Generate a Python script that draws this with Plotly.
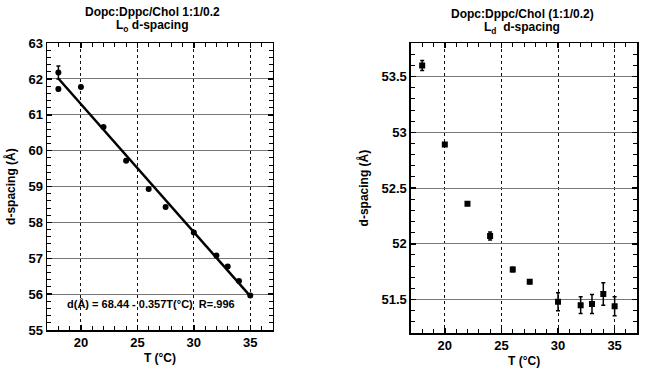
import plotly.graph_objects as go

# Left panel: Lo d-spacing
lo_T = [18, 18, 20, 22, 24, 26, 27.5, 30, 32, 33, 34, 35]
lo_d = [62.18, 61.72, 61.78, 60.66, 59.72, 58.93, 58.43, 57.72, 57.08, 56.77, 56.37, 55.96]
lo_err = [0.18, 0.04, 0.04, 0.03, 0.04, 0.03, 0.03, 0.03, 0.03, 0.03, 0.03, 0.03]
fit_T = [18, 35]
fit_a, fit_b = 68.44, -0.357

# Right panel: Ld d-spacing
ld_T = [18, 20, 22, 24, 26, 27.5, 30, 32, 33, 34, 35]
ld_d = [53.6, 52.89, 52.36, 52.07, 51.77, 51.66, 51.48, 51.45, 51.46, 51.55, 51.44]
ld_err = [0.045, 0.015, 0.015, 0.035, 0.02, 0.015, 0.08, 0.075, 0.085, 0.1, 0.085]

# Tick labels
x_ticks = [20, 25, 30, 35]
x_minor = [18, 19, 21, 22, 23, 24, 26, 27, 28, 29, 31, 32, 33, 34, 36]
lo_yticks = [55, 56, 57, 58, 59, 60, 61, 62, 63]
lo_yminor = [round(55 + 0.2 * i, 1) for i in range(41) if i % 5 != 0]
ld_yticks = [51.5, 52, 52.5, 53, 53.5]
ld_ylabels = ["51.5", "52", "52.5", "53", "53.5"]
ld_yminor = [round(51.2 + 0.1 * i, 1) for i in range(27) if round(51.2 + 0.1 * i, 1) not in ld_yticks]

FONT = "Liberation Sans"
BOLD = dict(size=12, family=FONT, color="black", weight="bold")
TICKF = dict(size=13, family=FONT, color="black", weight="bold")
fig = go.Figure()

fig.add_trace(go.Scatter(x=lo_T, y=lo_d, mode="markers",
                         marker=dict(color="black", size=6),
                         error_y=dict(type="data", array=lo_err, color="black", thickness=1.5, width=2),
                         xaxis="x", yaxis="y", showlegend=False, hoverinfo="skip"))
fig.add_trace(go.Scatter(x=fit_T, y=[fit_a + fit_b * t for t in fit_T], mode="lines",
                         line=dict(color="black", width=2.5),
                         xaxis="x", yaxis="y", showlegend=False, hoverinfo="skip"))
fig.add_trace(go.Scatter(x=ld_T, y=ld_d, mode="markers",
                         marker=dict(color="black", size=6, symbol="square"),
                         error_y=dict(type="data", array=ld_err, color="black", thickness=1.5, width=2),
                         xaxis="x2", yaxis="y2", showlegend=False, hoverinfo="skip"))

def xax(domain, anchor):
    return dict(domain=domain, anchor=anchor, range=[17, 37], automargin=False,
                tickmode="array", tickvals=x_ticks, ticktext=["<b>%d</b>" % v for v in x_ticks],
                ticks="inside", ticklen=5, tickwidth=1.5, tickcolor="black",
                minor=dict(ticks="inside", tickmode="array", tickvals=x_minor, ticklen=4,
                           tickwidth=1, tickcolor="black", showgrid=False),
                showline=True, linecolor="black", linewidth=1.5, mirror="allticks",
                showgrid=True, gridcolor="#111", griddash="dot", gridwidth=1,
                zeroline=False,
                title=dict(text="<b>T (°C)</b>", font=BOLD, standoff=4),
                tickfont=TICKF)

def yax(domain, anchor, rng, tv, tt, mv):
    return dict(domain=domain, anchor=anchor, range=rng, automargin=False,
                tickmode="array", tickvals=tv, ticktext=["<b>%s</b>" % t for t in tt],
                ticks="inside", ticklen=5, tickwidth=1.5, tickcolor="black",
                minor=dict(ticks="inside", tickmode="array", tickvals=mv, ticklen=4,
                           tickwidth=1, tickcolor="black", showgrid=False),
                showline=True, linecolor="black", linewidth=1.5, mirror="allticks",
                showgrid=True, gridcolor="#777", gridwidth=1,
                zeroline=False,
                title=dict(text="<b>d-spacing (Å)</b>", font=BOLD, standoff=10),
                tickfont=TICKF)

def ytop(px):
    return 1 - px / 375

TFONT = dict(size=12, family=FONT, color="black")
fig.update_layout(
    width=645, height=375,
    margin=dict(l=0, r=0, t=0, b=0),
    paper_bgcolor="white", plot_bgcolor="white",
    font=dict(family=FONT, color="black"),
    xaxis=xax([0.073, 0.423], "y"),
    yaxis=yax([0.12, 0.885], "x", [55, 63], lo_yticks, [str(v) for v in lo_yticks], lo_yminor),
    xaxis2=xax([0.637, 0.988], "y2"),
    yaxis2=yax([0.112, 0.885], "x2", [51.2, 53.8], ld_yticks, ld_ylabels, ld_yminor),
    annotations=[
        dict(text="<b>Dopc:Dppc/Chol 1:1/0.2</b>", x=152 / 645, y=ytop(12),
             xref="paper", yref="paper", showarrow=False, xanchor="center", yanchor="middle", font=TFONT),
        dict(text="<b>L<sub>o</sub> d-spacing</b>", x=152 / 645, y=ytop(26),
             xref="paper", yref="paper", showarrow=False, xanchor="center", yanchor="middle", font=TFONT),
        dict(text="<b>Dopc:Dppc/Chol (1:1/0.2)</b>", x=522 / 645, y=ytop(14),
             xref="paper", yref="paper", showarrow=False, xanchor="center", yanchor="middle", font=TFONT),
        dict(text="<b>L<sub>d</sub>  d-spacing</b>", x=522 / 645, y=ytop(28),
             xref="paper", yref="paper", showarrow=False, xanchor="center", yanchor="middle", font=TFONT),
        dict(text="<b>d(Å) = 68.44 - 0.357T(°C)  R=.996</b>", x=26.2, y=55.72,
             xref="x", yref="y", showarrow=False,
             font=dict(size=11, family=FONT, color="black")),
    ],
)

fig.write_html("out.html", config={"displayModeBar": False, "staticPlot": True},
               post_script="document.body.style.margin='0';document.body.style.overflow='hidden';")
